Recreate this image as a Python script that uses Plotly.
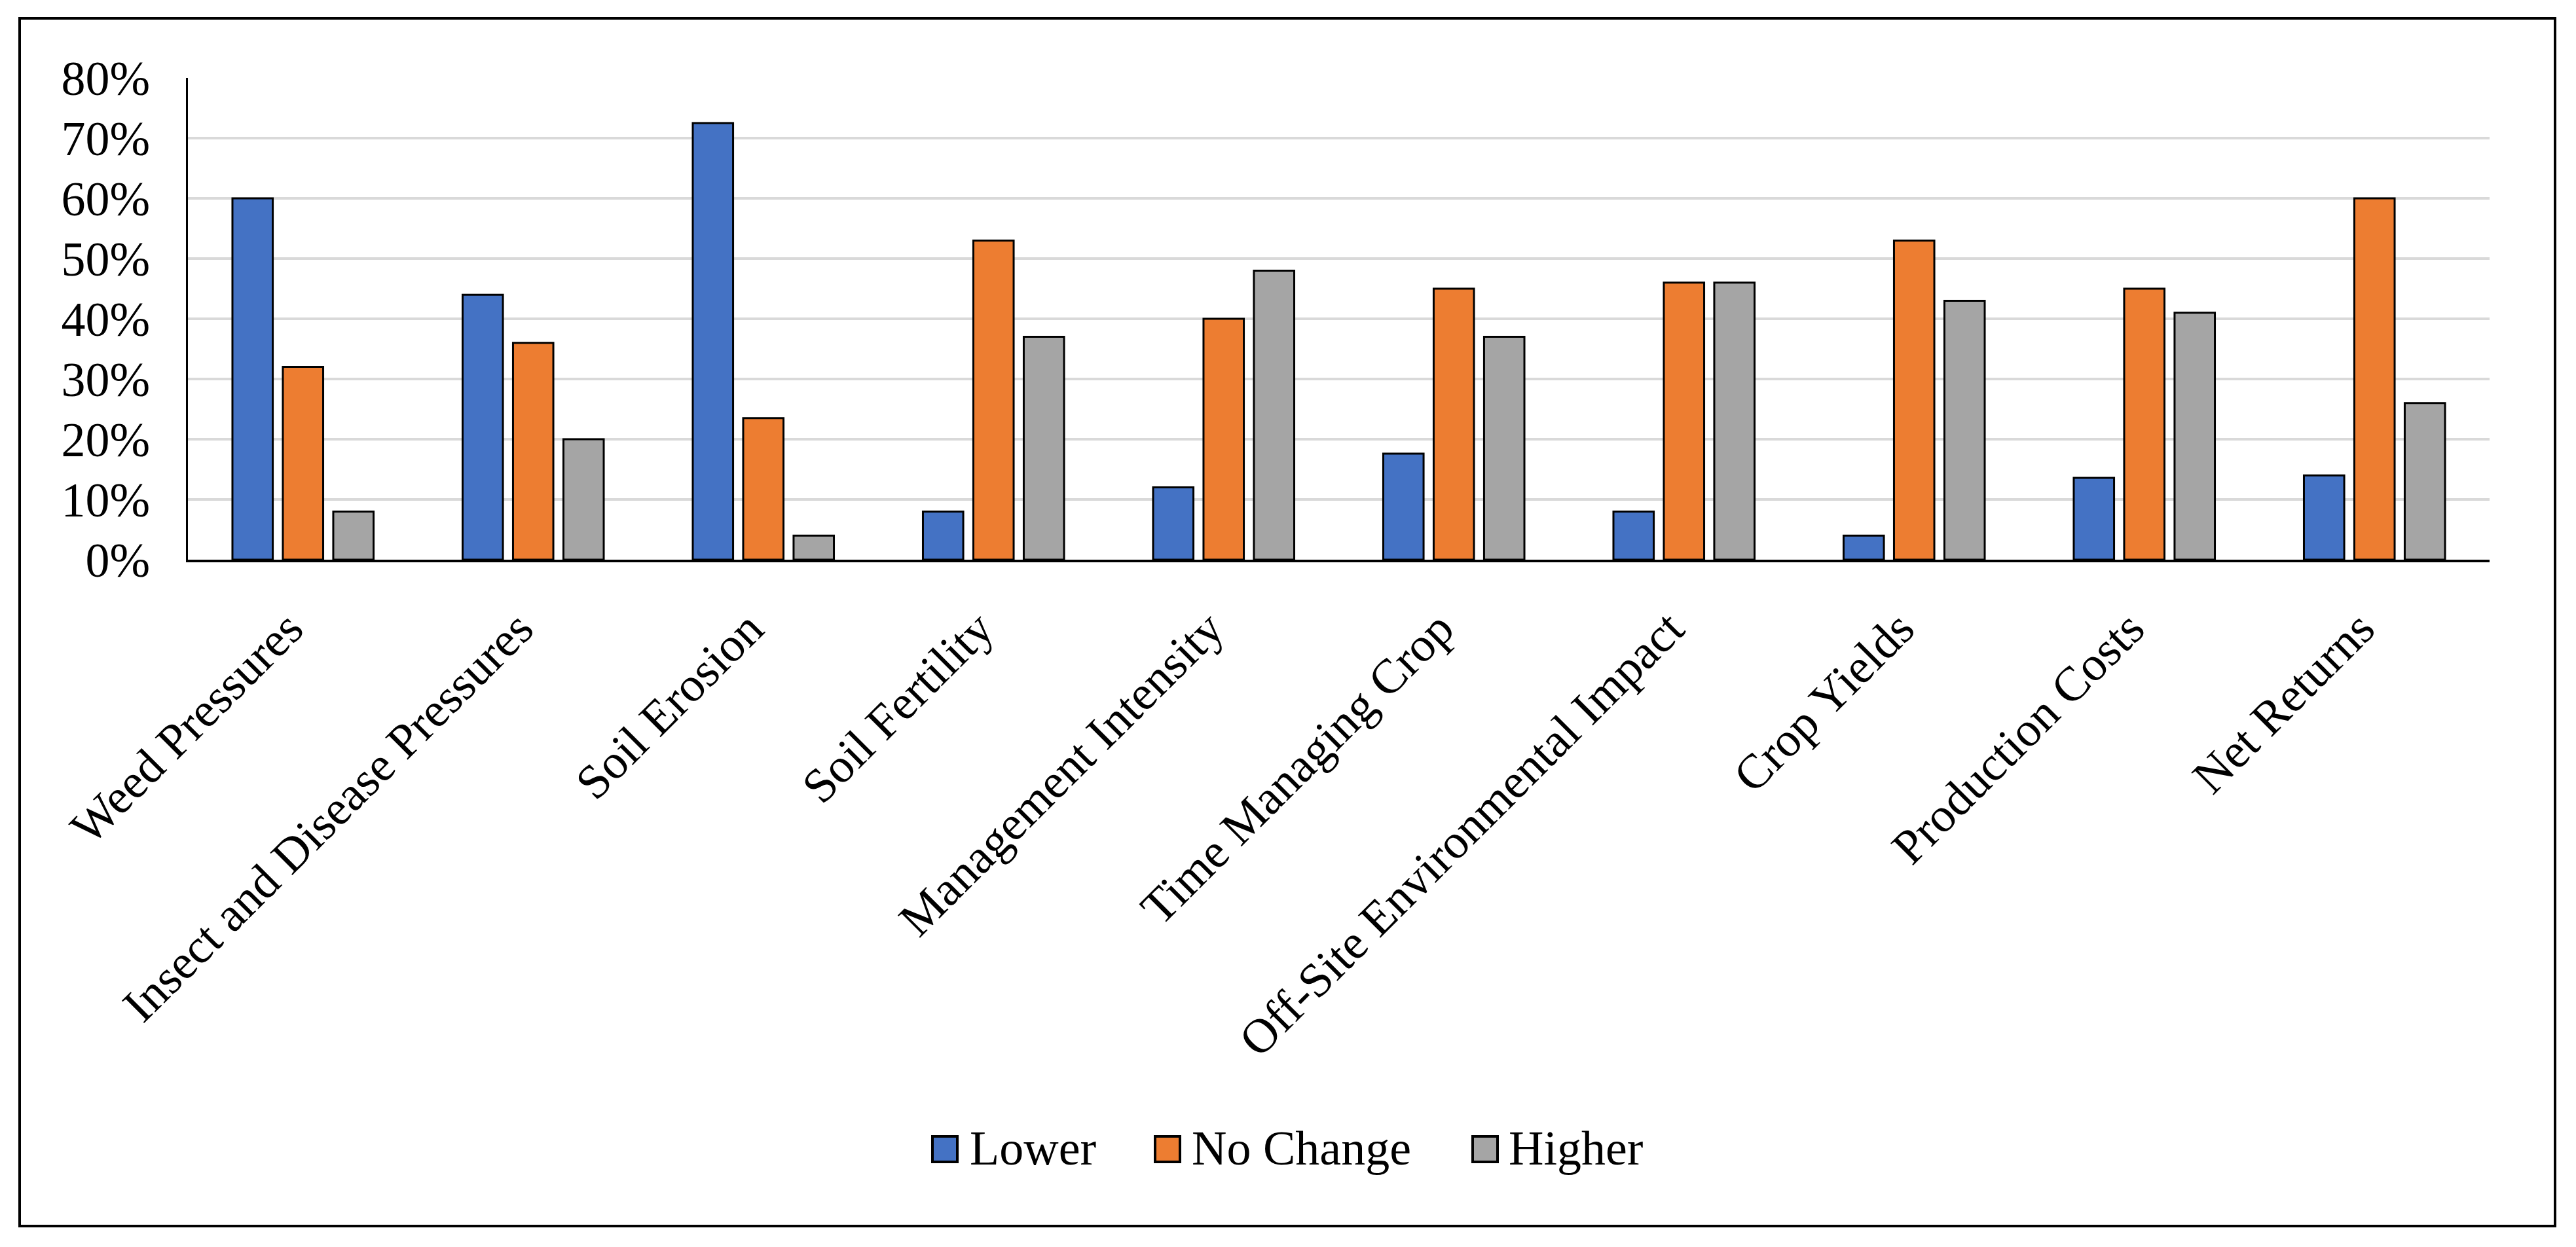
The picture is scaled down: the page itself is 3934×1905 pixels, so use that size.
import plotly.graph_objects as go

categories = ["Weed Pressures", "Insect and Disease Pressures", "Soil Erosion", "Soil Fertility",
              "Management Intensity", "Time Managing Crop", "Off-Site Environmental Impact",
              "Crop Yields", "Production Costs", "Net Returns"]
series_names = ["Lower", "No Change", "Higher"]
lower = [60, 44, 72.5, 8, 12, 17.6, 8, 4, 13.6, 14]
no_change = [32, 36, 23.5, 53, 40, 45, 46, 53, 45, 60]
higher = [8, 20, 4, 37, 48, 37, 46, 43, 41, 26]
y_ticks = [0, 10, 20, 30, 40, 50, 60, 70, 80]
y_tick_labels = ["0%", "10%", "20%", "30%", "40%", "50%", "60%", "70%", "80%"]

colors = ["#4472C4", "#ED7D31", "#A5A5A5"]
FONT = "Liberation Serif, Times New Roman, serif"

OFF = 8  # default body margin of the page
WIN_W, WIN_H = 3934, 1905
W, H = WIN_W - 2 * OFF, WIN_H - 2 * OFF
# plot area in screen pixels
SX0, SX1, SY0, SY1 = 287, 3802, 119, 855
L, R = SX0 - OFF, W - (SX1 - OFF)
T, B = SY0 - OFF, H - (SY1 - OFF)
PW, PH = SX1 - SX0, SY1 - SY0


def px_x(px):
    return (px - SX0) / PW


def px_y(py):
    return (SY1 - py) / PH


fig = go.Figure()
for name, vals, col in zip(series_names, [lower, no_change, higher], colors):
    fig.add_trace(go.Bar(
        x=categories, y=vals, name=name,
        marker=dict(color=col, line=dict(color="black", width=3)),
        showlegend=False,
    ))

shapes = [
    dict(type="rect", xref="paper", yref="paper",
         x0=px_x(30), x1=px_x(3902), y0=px_y(1873), y1=px_y(28),
         line=dict(color="black", width=4), fillcolor="rgba(0,0,0,0)", layer="below"),
]
annotations = []
leg_marker_x = [1424, 1764, 2249]
leg_text_x = [1479, 1818, 2302]
leg_y0, leg_y1 = 1736, 1775
for name, col, mx, tx in zip(series_names, colors, leg_marker_x, leg_text_x):
    shapes.append(dict(type="rect", xref="paper", yref="paper",
                       x0=px_x(mx), x1=px_x(mx + 38), y0=px_y(leg_y1), y1=px_y(leg_y0),
                       fillcolor=col, line=dict(color="black", width=4)))
    annotations.append(dict(xref="paper", yref="paper", x=px_x(tx), y=px_y((leg_y0 + leg_y1) / 2 - 2),
                            text=name, showarrow=False, xanchor="left", yanchor="middle",
                            font=dict(family=FONT, size=74, color="black")))

fig.update_layout(
    width=W, height=H,
    margin=dict(l=L, r=R, t=T, b=B, autoexpand=False),
    paper_bgcolor="white", plot_bgcolor="white",
    barmode="group", bargap=0.343, bargroupgap=0.2,
    font=dict(family=FONT, size=74, color="black"),
    shapes=shapes, annotations=annotations,
    xaxis=dict(tickangle=-45, showline=True, linecolor="black", linewidth=4,
               showgrid=False, ticks="", tickfont=dict(family=FONT, size=74, color="black"),
               ticklabelstandoff=28, ticklabelshift=-22),
    yaxis=dict(range=[0, 80], tickmode="array", tickvals=y_ticks, ticktext=y_tick_labels,
               showline=True, linecolor="black", linewidth=3, showgrid=True, gridcolor="#D9D9D9",
               gridwidth=4, zeroline=False, ticks="",
               tickfont=dict(family=FONT, size=74, color="black"), ticklabelstandoff=40),
)

fig.write_html("out.html")
